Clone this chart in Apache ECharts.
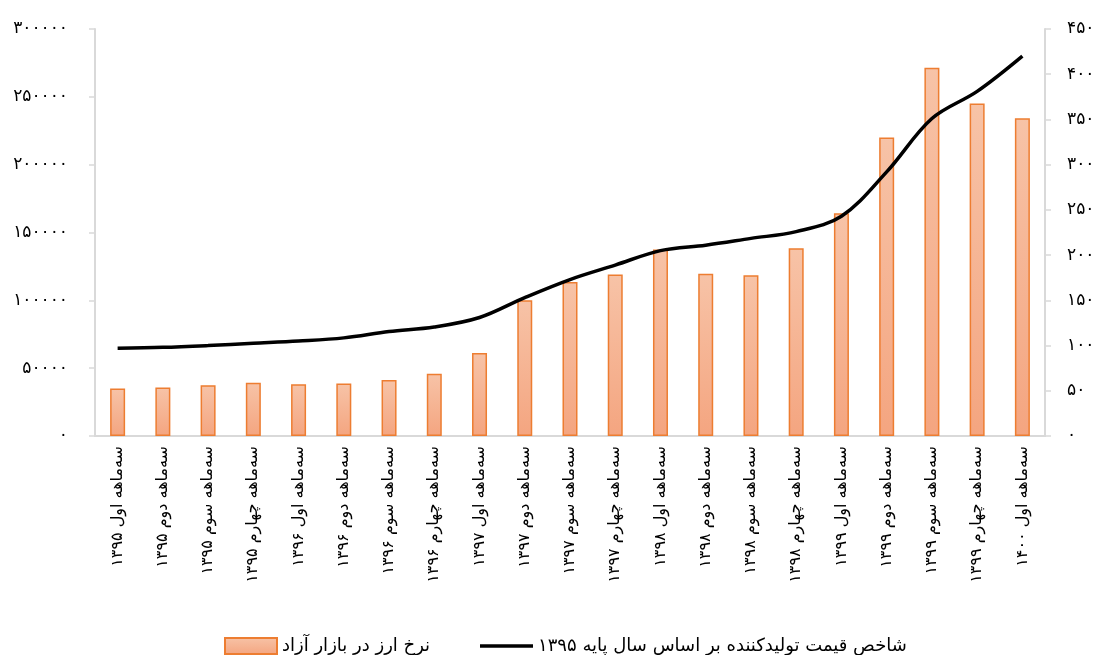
<!DOCTYPE html>
<html>
<head>
<meta charset="utf-8">
<script src="https://cdn.jsdelivr.net/npm/echarts@6/dist/echarts.min.js"></script>
<style>
html,body{margin:0;padding:0;background:#fff;}
#chart{width:1100px;height:655px;}
</style>
</head>
<body>
<div id="chart"></div>
<script>
const categories = [
  'سه‌ماهه اول ۱۳۹۵','سه‌ماهه دوم ۱۳۹۵','سه‌ماهه سوم ۱۳۹۵','سه‌ماهه چهارم ۱۳۹۵',
  'سه‌ماهه اول ۱۳۹۶','سه‌ماهه دوم ۱۳۹۶','سه‌ماهه سوم ۱۳۹۶','سه‌ماهه چهارم ۱۳۹۶',
  'سه‌ماهه اول ۱۳۹۷','سه‌ماهه دوم ۱۳۹۷','سه‌ماهه سوم ۱۳۹۷','سه‌ماهه چهارم ۱۳۹۷',
  'سه‌ماهه اول ۱۳۹۸','سه‌ماهه دوم ۱۳۹۸','سه‌ماهه سوم ۱۳۹۸','سه‌ماهه چهارم ۱۳۹۸',
  'سه‌ماهه اول ۱۳۹۹','سه‌ماهه دوم ۱۳۹۹','سه‌ماهه سوم ۱۳۹۹','سه‌ماهه چهارم ۱۳۹۹',
  'سه‌ماهه اول ۱۴۰۰'
];
const exchangeRate = [35100, 35800, 37500, 39200, 38200, 38700, 41200, 45800, 61200,
  100000, 113500, 119100, 137500, 119600, 118400, 138400, 164200,
  220100, 271500, 245100, 234300];
const ppi = [97, 98, 100, 102.5, 105, 108.5, 115.5, 120.5, 131,
  153, 173, 189, 205, 211, 218.5, 226, 243,
  292, 351, 381, 420];
const leftTicks = {min: 0, max: 300000, interval: 50000};
const rightTicks = {min: 0, max: 450, interval: 50};
const seriesNames = ['نرخ ارز در بازار آزاد', 'شاخص قیمت تولیدکننده بر اساس سال پایه ۱۳۹۵'];

const faDigits = '۰۱۲۳۴۵۶۷۸۹';
function toFa(v) { return String(v).replace(/[0-9]/g, d => faDigits[+d]); }

const FONT = '"DejaVu Sans", sans-serif';
const chart = echarts.init(document.getElementById('chart'));
chart.setOption({
  animation: false,
  backgroundColor: '#fff',
  textStyle: {fontFamily: FONT},
  grid: {left: 95, right: 55, top: 29, bottom: 219, containLabel: false},
  legend: [{
    data: [{name: seriesNames[0], icon: 'rect'}],
    left: 219, top: 632,
    itemWidth: 52, itemHeight: 16,
    textStyle: {fontFamily: FONT, fontSize: 18, color: '#000'}
  }, {
    data: [{name: seriesNames[1], icon: 'rect', itemStyle: {color: '#000', borderWidth: 0}}],
    left: 475, top: 632,
    itemWidth: 53, itemHeight: 3.5,
    textStyle: {fontFamily: FONT, fontSize: 18, color: '#000'}
  }],
  xAxis: {
    type: 'category',
    data: categories,
    axisLine: {lineStyle: {color: '#d9d9d9', width: 2}},
    axisTick: {show: false},
    axisLabel: {rotate: 90, margin: 10, fontSize: 16, color: '#000', fontFamily: FONT, interval: 0}
  },
  yAxis: [{
    type: 'value', min: leftTicks.min, max: leftTicks.max, interval: leftTicks.interval,
    splitLine: {show: false},
    axisLine: {show: true, lineStyle: {color: '#d9d9d9', width: 2}},
    axisTick: {show: true, length: 6, lineStyle: {color: '#d9d9d9', width: 1.5}},
    axisLabel: {margin: 27, fontSize: 17, color: '#000', fontFamily: FONT, formatter: v => toFa(v)}
  }, {
    type: 'value', min: rightTicks.min, max: rightTicks.max, interval: rightTicks.interval,
    position: 'right',
    splitLine: {show: false},
    axisLine: {show: true, lineStyle: {color: '#d9d9d9', width: 2}},
    axisTick: {show: true, length: 6, lineStyle: {color: '#d9d9d9', width: 1.5}},
    axisLabel: {margin: 22, fontSize: 17, color: '#000', fontFamily: FONT, formatter: v => toFa(v)}
  }],
  series: [{
    name: seriesNames[0],
    type: 'bar',
    yAxisIndex: 0,
    data: exchangeRate,
    barWidth: 15,
    itemStyle: {
      color: new echarts.graphic.LinearGradient(0, 0, 0, 1, [
        {offset: 0, color: '#F7C3A7'},
        {offset: 1, color: '#F4A580'}
      ]),
      borderColor: '#ED7D31',
      borderWidth: 1.5
    }
  }, {
    name: seriesNames[1],
    type: 'line',
    yAxisIndex: 1,
    data: ppi,
    smooth: 0.35,
    showSymbol: false,
    symbol: 'none',
    lineStyle: {color: '#000', width: 3.5},
    itemStyle: {color: '#000'}
  }]
});
</script>
</body>
</html>
